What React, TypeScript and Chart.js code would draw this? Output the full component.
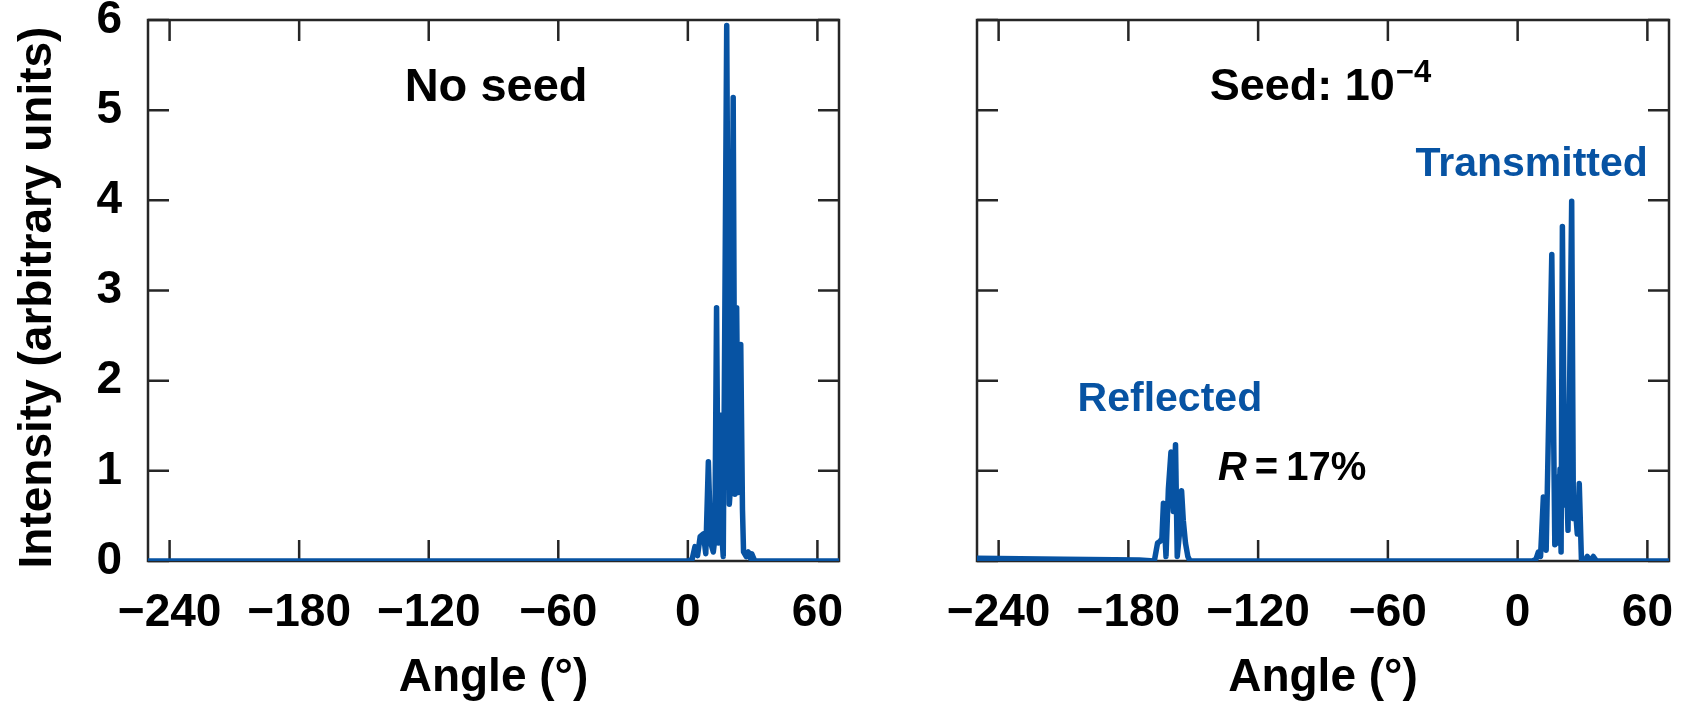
import React, { useEffect, useRef } from "react";
import { Chart, registerables } from "chart.js";

Chart.register(...registerables);

// ---- data ----
const xTickValues = [-240, -180, -120, -60, 0, 60];
const yTickValues = [0, 1, 2, 3, 4, 5, 6];

const leftAngles = [-250, 0, 2, 3.3, 4.5, 5.7, 7.2, 8.3, 9.5, 10.6, 11.8, 12.5, 13.3, 14.1, 14.9, 15.7, 16.4, 18.0, 19.2, 20.0, 21.0, 21.8, 22.6, 23.4, 24.5, 25.3, 25.8, 27.0, 28.0, 29.0, 29.6, 31.0, 70];
const leftIntensity = [0, 0, 0.02, 0.16, 0.06, 0.27, 0.3, 0.08, 1.1, 0.2, 0.1, 0.25, 2.81, 0.2, 1.62, 0.3, 0.05, 5.94, 0.63, 0.9, 5.14, 0.74, 2.81, 0.76, 2.4, 0.57, 0.1, 0.05, 0.1, 0.03, 0.08, 0, 0];

const rightAngles = [-250, -210, -175, -168, -166.5, -165.3, -164.5, -163.8, -162.6, -161.5, -160.3, -159.2, -158.2, -157.4, -156.4, -155.4, -154.6, -153.6, -152.5, -151.5, 7, 8.5, 9.6, 10.6, 11.9, 13.2, 15.8, 17.2, 18.1, 18.8, 19.6, 20.1, 20.7, 21.8, 22.5, 23.3, 25.0, 25.8, 26.8, 27.6, 28.5, 29.5, 31, 32.2, 33.5, 35, 36.5, 70];
const rightIntensity = [0.03, 0.02, 0.01, 0, 0.2, 0.22, 0.25, 0.64, 0.05, 0.8, 1.21, 0.55, 1.29, 0.05, 0.3, 0.78, 0.45, 0.2, 0.05, 0, 0, 0.02, 0.1, 0.05, 0.71, 0.12, 3.4, 0.18, 0.93, 0.2, 1.02, 0.1, 3.71, 0.62, 1.0, 0.34, 3.99, 0.47, 0.55, 0.3, 0.86, 0.02, 0, 0.05, 0, 0.05, 0, 0];

const xTitle = "Angle (°)";
const yTitle = "Intensity (arbitrary units)";
const leftLabel = "No seed";
const rightLabel = "Seed: 10";
const rightLabelSup = "\u22124";
const transmittedLabel = "Transmitted";
const reflectedLabel = "Reflected";
const ratioLabel = "17%";

const BLUE = "#0753a3";
const FONT = "'Liberation Sans', Arial, Helvetica, sans-serif";

const fmt = (v: number) => (v < 0 ? "\u2212" + Math.abs(v) : String(v));

const framePlugin = {
  id: "frame",
  beforeDatasetsDraw(chart: any) {
    const { ctx, chartArea: a, scales } = chart;
    const x = scales.x, y = scales.y;
    ctx.save();
    ctx.strokeStyle = "#262626";
    ctx.lineWidth = 2.5;
    ctx.strokeRect(a.left, a.top, a.right - a.left, a.bottom - a.top);
    const L = 21;
    ctx.beginPath();
    xTickValues.forEach((v) => {
      const px = x.getPixelForValue(v);
      ctx.moveTo(px, a.top);
      ctx.lineTo(px, a.top + L);
      ctx.moveTo(px, a.bottom);
      ctx.lineTo(px, a.bottom - L);
    });
    yTickValues.forEach((v) => {
      const py = y.getPixelForValue(v);
      ctx.moveTo(a.left, py);
      ctx.lineTo(a.left + L, py);
      ctx.moveTo(a.right, py);
      ctx.lineTo(a.right - L, py);
    });
    ctx.stroke();
    ctx.restore();
  },
};

function makeTextPlugin(kind: "left" | "right") {
  return {
    id: "texts-" + kind,
    afterDatasetsDraw(chart: any) {
      const { ctx, scales, chartArea } = chart;
      const x = scales.x, y = scales.y;
      ctx.save();
      ctx.textBaseline = "middle";
      ctx.textAlign = "center";
      if (kind === "left") {
        ctx.fillStyle = "#000";
        ctx.font = `bold 47px ${FONT}`;
        ctx.fillText(leftLabel, x.getPixelForValue(-88.8), y.getPixelForValue(5.25));
        // y-axis title
        ctx.save();
        ctx.translate(38, (chartArea.top + chartArea.bottom) / 2 + 7);
        ctx.rotate(-Math.PI / 2);
        ctx.font = `bold 46px ${FONT}`;
        ctx.fillText(yTitle, 0, 0);
        ctx.restore();
      } else {
        ctx.fillStyle = "#000";
        const mainFont = `bold 45px ${FONT}`;
        const supFont = `bold 31px ${FONT}`;
        ctx.font = mainFont;
        const w1 = ctx.measureText(rightLabel).width;
        ctx.font = supFont;
        const w2 = ctx.measureText(rightLabelSup).width;
        const cx = x.getPixelForValue(-91.4);
        const cy = y.getPixelForValue(5.25);
        const start = cx - (w1 + w2) / 2;
        ctx.textAlign = "left";
        ctx.font = mainFont;
        ctx.fillText(rightLabel, start, cy);
        ctx.font = supFont;
        ctx.fillText(rightLabelSup, start + w1 + 1, cy - 14);
        ctx.textAlign = "center";
        ctx.fillStyle = BLUE;
        ctx.font = `bold 41px ${FONT}`;
        ctx.fillText(transmittedLabel, x.getPixelForValue(6.5), y.getPixelForValue(4.4));
        ctx.fillText(reflectedLabel, x.getPixelForValue(-160.8), y.getPixelForValue(1.79));
        ctx.fillStyle = "#000";
        const rFont = `italic bold 40px ${FONT}`;
        const eqFont = `bold 40px ${FONT}`;
        ctx.font = rFont;
        const wr = ctx.measureText("R").width;
        ctx.font = eqFont;
        const weq = ctx.measureText("=").width;
        const wp = ctx.measureText(ratioLabel).width;
        const gap = 8;
        const total = wr + gap + weq + gap + wp;
        const rx = x.getPixelForValue(-104.3) - total / 2;
        const ry = y.getPixelForValue(1.02);
        ctx.textAlign = "left";
        ctx.font = rFont;
        ctx.fillText("R", rx, ry);
        ctx.font = eqFont;
        ctx.fillText("=", rx + wr + gap, ry);
        ctx.fillText(ratioLabel, rx + wr + gap + weq + gap, ry);
      }
      ctx.restore();
    },
  };
}

function buildConfig(kind: "left" | "right"): any {
  const isLeft = kind === "left";
  const angles = isLeft ? leftAngles : rightAngles;
  const vals = isLeft ? leftIntensity : rightIntensity;
  const data = angles.map((a, i) => ({ x: a, y: vals[i] }));
  const tickFont = { family: FONT, size: 46, weight: "bold" as const };
  return {
    type: "line",
    data: {
      datasets: [
        {
          data,
          borderColor: BLUE,
          backgroundColor: BLUE,
          borderWidth: 5.5,
          pointRadius: 0,
          tension: 0,
          borderJoinStyle: "round",
          borderCapStyle: "round",
          fill: false,
        },
      ],
    },
    options: {
      animation: false,
      responsive: false,
      maintainAspectRatio: false,
      events: [],
      layout: { padding: { top: 20, right: isLeft ? 21 : 14, left: 0, bottom: 0 } },
      plugins: { legend: { display: false }, tooltip: { enabled: false } },
      scales: {
        x: {
          type: "linear",
          min: -250,
          max: 70,
          afterBuildTicks: (s: any) => {
            s.ticks = xTickValues.map((v) => ({ value: v }));
          },
          afterFit: (s: any) => {
            s.height = 145;
            s.paddingLeft = 0;
            s.paddingRight = 0;
          },
          grid: { display: false, drawTicks: false },
          border: { display: false },
          ticks: {
            padding: 25,
            autoSkip: false,
            maxRotation: 0,
            color: "#000",
            font: tickFont,
            callback: (v: any) => fmt(Number(v)),
          },
          title: {
            display: true,
            text: xTitle,
            color: "#000",
            font: { family: FONT, size: 46, weight: "bold", lineHeight: 1 },
            padding: { top: 0, bottom: 5 },
          },
        },
        y: {
          type: "linear",
          min: 0,
          max: 6,
          afterBuildTicks: (s: any) => {
            s.ticks = yTickValues.map((v) => ({ value: v }));
          },
          afterFit: (s: any) => {
            s.width = isLeft ? 148 : 117;
            s.paddingTop = 0;
            s.paddingBottom = 0;
          },
          grid: { display: false, drawTicks: false },
          border: { display: false },
          ticks: {
            display: isLeft,
            padding: 26,
            color: "#000",
            font: tickFont,
          },
          title: { display: false },
        },
      },
    },
    plugins: [framePlugin, makeTextPlugin(kind)],
  };
}

function Panel({ kind, left, width }: { kind: "left" | "right"; left: number; width: number }) {
  const ref = useRef<HTMLCanvasElement | null>(null);
  useEffect(() => {
    if (!ref.current) return;
    const chart = new Chart(ref.current, buildConfig(kind));
    return () => chart.destroy();
  }, [kind]);
  return (
    <canvas
      ref={ref}
      width={width}
      height={706}
      style={{ position: "absolute", left, top: 0, width, height: 706, display: "block" }}
    />
  );
}

export default function App() {
  return (
    <div style={{ position: "absolute", left: 0, top: 0, width: 1683, height: 706, background: "#fff" }}>
      <Panel kind="left" left={0} width={860} />
      <Panel kind="right" left={860} width={823} />
    </div>
  );
}
